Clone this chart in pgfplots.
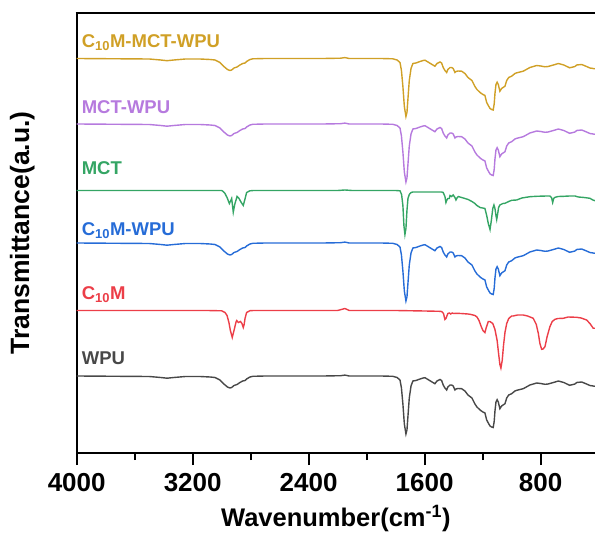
\documentclass[border=0pt]{standalone}
\usepackage{fontspec}
\setmainfont{Liberation Sans}
\usepackage{pgfplots}
\usepackage{pgfplotstable}
\pgfplotsset{compat=1.18}
\definecolor{cgold}{RGB}{208,160,38}
\definecolor{cpurple}{RGB}{182,122,222}
\definecolor{cgreen}{RGB}{52,165,100}
\definecolor{cblue}{RGB}{38,108,215}
\definecolor{cred}{RGB}{236,62,72}
\definecolor{cgray}{RGB}{72,72,72}
\tikzset{labelnode/.style={anchor=base west, font=\fontsize{18.5}{18.5}\selectfont\bfseries, inner sep=0pt}}
% depth below each curve's baseline (arbitrary transmittance units)
\pgfplotstableread{
wn d
4000 0
3700 0.3
3500 0.5
3420 1.5
3377 2.2
3330 1.5
3250 0.5
3150 0.5
3080 1
3046 1.5
3012 4
2985 8
2960 11
2943 12
2931 11.5
2915 9.5
2894 8.5
2874 6.5
2855 5
2839 4.5
2828 3
2805 1
2784 0.3
2700 0
2500 0
2300 0
2180 -0.3
2150 -0.9
2120 0
1900 0
1820 0.3
1790 1.5
1770 4
1760 12
1750 28
1740 48
1729 58
1722 54
1715 40
1706 22
1694 10
1681 5
1660 4.5
1632 3
1610 2
1598 1.7
1577 3.5
1549 6
1529 7.7
1515 5
1494 3.5
1483 4.5
1472 9
1460 12
1448 14
1440 11
1432 10
1425 9
1414 9
1403 10
1391 14
1384 13
1370 12.5
1345 12.7
1322 15
1301 19
1274 22
1253 28
1239 31
1218 34
1198 36
1184 37
1172 44
1161 47
1149 50
1138 51
1127 51.5
1120 45
1115 35
1108 26
1100 23.7
1092 26
1081 32.7
1069 30
1046 27.7
1034 22
1020 19
1000 17.7
977 15
965 14.3
920 12.7
874 9
827 7
800 7.5
770 8.3
748 8
700 6
678 5
640 6.5
600 9.3
563 8
552 6.5
517 6
483 8
460 9.5
425 10.3
}\wpu
\pgfplotstableread{
wn d
4000 0
3000 0
2990 1
2977 3
2963 7
2947 13
2937 10
2931 8
2920 21.7
2910 14
2894 6
2880 8
2869 11
2851 15
2840 9
2828 2
2805 0.3
2780 0
2200 0
2150 -0.5
2100 0
1800 0
1770 0.3
1759 4
1750 15
1743 35
1736 44
1729 38
1722 20
1715 8
1706 4
1694 2
1681 1.5
1600 1.5
1500 1.5
1483 1.5
1472 2
1460 6
1453 12
1448 10
1440 8
1430 8
1425 5
1414 6
1403 4.5
1391 7
1384 9.5
1375 7
1368 6
1345 7
1322 8
1300 9
1274 11
1253 13
1239 15
1218 17
1200 17.5
1184 18
1172 25
1161 33
1149 39
1140 30
1130 18
1122 14.5
1115 18
1108 25
1103 29
1097 24
1090 17
1081 14.5
1060 13
1046 12.8
1020 11
1000 9.8
965 9.5
930 7.5
874 6.2
827 5.8
760 5.5
736 5.5
725 7
717 12
710 8
701 6.8
678 6
640 5.8
600 5.5
563 5.5
540 6.5
500 7
460 7.8
440 9.5
425 10.2
}\mct
\pgfplotstableread{
wn d
4000 0
3100 0
3000 0.3
2977 2
2963 5
2950 12
2940 20
2927 27
2915 20
2900 11
2896 10
2885 12
2870 11
2860 13
2851 17
2845 14
2839 8
2828 2
2805 0.2
2780 0
2200 0
2150 -2
2120 0
1800 0
1600 0.5
1500 0.8
1483 1
1470 3
1460 9
1453 8
1440 3
1430 2.5
1420 3.5
1410 2.5
1400 3
1380 2.8
1350 3
1300 3.5
1280 4
1253 5
1239 6.5
1225 10
1210 16
1198 20
1184 22
1175 17
1161 11
1150 11
1130 13
1115 19
1100 30
1090 43
1081 54
1074 57.6
1065 50
1056 35
1046 22
1034 13
1020 8
1000 5.5
989 5.5
960 4.5
920 4.5
890 5.5
851 7.8
830 14
816 22.8
805 33
793 38.8
783 38.5
770 36.2
755 26
736 16.2
720 11
701 8.8
680 8
644 7.8
610 6.5
552 6.8
520 7.5
483 9.5
460 13
437 17.8
425 17.8
}\cm
\begin{document}
\begin{tikzpicture}
\begin{axis}[
  name=ax,
  scale only axis,
  width=518.3pt, height=440pt,
  x dir=reverse,
  xmin=425, xmax=4000,
  ymin=0, ymax=440,
  axis x line=box, axis y line=left,
  axis line style={line width=2pt, -},
  xtick={800,1600,2400,3200,4000},
  minor xtick={1200,2000,2800,3600},
  xtick pos=bottom,
  ytick=\empty,
  tick align=outside,
  major tick length=12pt, minor tick length=7pt,
  every tick/.style={black, line width=2pt},
  /pgf/number format/1000 sep={},
  /pgf/number format/assume math mode=true,
  xticklabel style={font=\fontsize{26}{26}\selectfont\bfseries, yshift=-5pt},
  xlabel={Wavenumber(cm\textsuperscript{-1})},
  ylabel={Transmittance(a.u.)},
  xlabel style={font=\fontsize{25.5}{25.5}\selectfont\bfseries, at={(axis description cs:0.5,-0.168)}, anchor=base},
  ylabel style={font=\fontsize{26.5}{26.5}\selectfont\bfseries, at={(axis description cs:-0.105,0.5)}, anchor=center},
  clip=true,
]
\addplot[cgray, line width=1.4pt] table[x=wn, y expr=77-\thisrow{d}] {\wpu};
\addplot[cred, line width=1.4pt] table[x=wn, y expr=142.5-\thisrow{d}] {\cm};
\addplot[cblue, line width=1.4pt] table[x=wn, y expr=210-\thisrow{d}] {\wpu};
\addplot[cgreen, line width=1.4pt] table[x=wn, y expr=262.5-\thisrow{d}] {\mct};
\addplot[cpurple, line width=1.4pt] table[x=wn, y expr=329-\thisrow{d}] {\wpu};
\addplot[cgold, line width=1.4pt] table[x=wn, y expr=394.5-\thisrow{d}] {\wpu};
\node[labelnode, text=cgold] at (axis cs:3966,405.2) {C\textsubscript{10}M-MCT-WPU};
\node[labelnode, text=cpurple] at (axis cs:3966,339.7) {MCT-WPU};
\node[labelnode, text=cgreen] at (axis cs:3966,278.7) {MCT};
\node[labelnode, text=cblue] at (axis cs:3966,217.7) {C\textsubscript{10}M-WPU};
\node[labelnode, text=cred] at (axis cs:3966,153.7) {C\textsubscript{10}M};
\node[labelnode, text=cgray] at (axis cs:3966,88) {WPU};
\end{axis}
\draw[line width=2pt] ([xshift=-1pt]ax.north west) -- (ax.north east);
\pgfresetboundingbox
\path ([xshift=-76.7pt,yshift=-80pt]ax.south west) rectangle ([yshift=13pt]ax.north east);
\end{tikzpicture}
\end{document}
